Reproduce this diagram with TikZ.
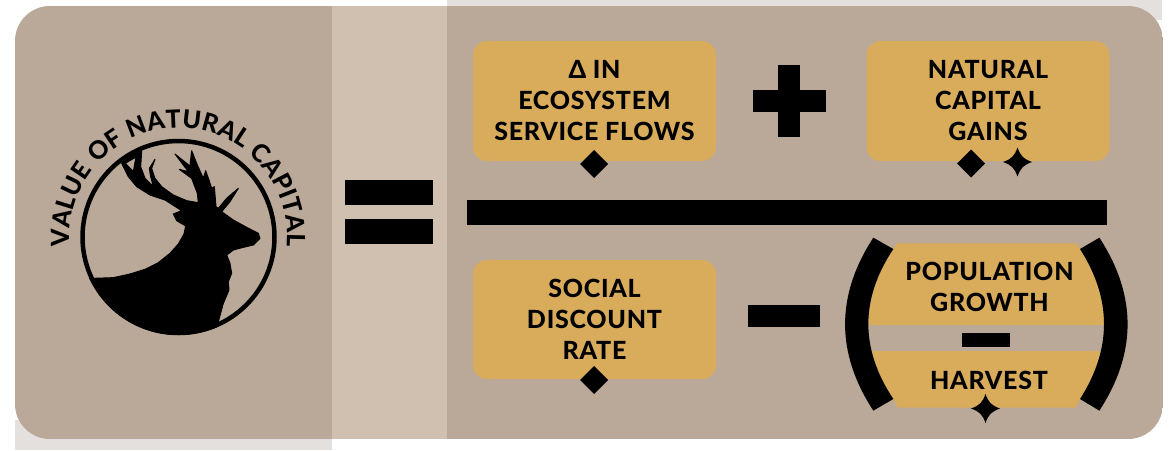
\documentclass[tikz,border=0pt]{standalone}
\usepackage{fontspec}
\setmainfont{Lato}[BoldFont={Lato Heavy},BoldFeatures={LetterSpace=3}]
\usetikzlibrary{shapes.geometric,decorations.text}
\definecolor{panel}{HTML}{BAA999}
\definecolor{band}{HTML}{CFC0AF}
\definecolor{gold}{HTML}{D9AC5C}
\definecolor{pale}{HTML}{E3E0DE}
\tikzset{
  goldbox/.style={fill=gold,rounded corners=14pt,minimum width=243pt,minimum height=120pt,inner sep=0pt,align=center,font=\fontsize{25}{31}\selectfont\bfseries},
  label/.style={inner sep=0pt,align=center,font=\fontsize{25}{30.5}\selectfont\bfseries},
  gem/.style={diamond,fill=black,shape aspect=1,minimum width=28pt,minimum height=28pt,inner sep=0pt,outer sep=0pt},
  bar/.style={fill=black}
}
\newcommand{\sparkle}[2]{\fill[black,shift={(#1,#2)}] (-14.5,0) .. controls (-6,-3) and (-3,-6) .. (0,-14.5) .. controls (3,-6) and (6,-3) .. (14.5,0) .. controls (6,3) and (3,6) .. (0,14.5) .. controls (-3,6) and (-6,3) .. (-14.5,0) -- cycle;}
\begin{document}
\begin{tikzpicture}[x=1pt,y=-1pt]
\useasboundingbox (0,0) rectangle (1172,450);
\fill[white] (0,0) rectangle (1172,450);
\fill[pale] (447,0) rectangle (1162,20);
\fill[pale] (15,420) rectangle (332,450);
\begin{scope}
  \clip[rounded corners=35pt] (15,6) rectangle (1163,439);
  \fill[panel] (15,6) rectangle (1163,439);
  \fill[band] (332,6) rectangle (447,439);
\end{scope}
% emblem
\coordinate (c) at (178.5,237);
\begin{scope}[shift={(30,90)},x=1/3*1pt,y=-1/3*1pt]
  \begin{scope}
  \clip (445,440) circle[radius=295];
  \filldraw[black,even odd rule,line join=round,line width=1pt]
    (275,220) -- (335,170) -- (335,185) -- (332,230) -- (345,265) -- (370,290) -- (362,260) -- (358,235) -- (375,208)
    -- (365,235) -- (375,265) -- (395,290) -- (430,315) -- (470,332) -- (505,338)
    -- (502,310) -- (485,265) -- (448,238) -- (475,245) -- (435,192) -- (480,228) -- (485,182)
    -- (502,225) -- (520,265) -- (527,242) -- (537,270) -- (545,295) -- (553,290) -- (558,350) -- (565,355)
    -- (590,325) -- (625,295) -- (600,335) -- (575,365)
    -- (610,390) -- (650,412) -- (685,430) -- (690,445) -- (670,465) -- (640,472) -- (610,480) -- (590,495)
    -- (600,520) -- (605,550) -- (595,575) -- (597,600) -- (580,640) -- (565,695)
    -- (560,800) -- (100,800) -- (100,560) -- (190,565) -- (250,563) -- (300,552) -- (345,538) -- (385,518) -- (420,490) -- (445,462)
    -- (462,432) -- (467,408) -- (440,392) -- (430,372) -- (455,362)
    -- (405,330) -- (360,315) -- (320,290) -- (295,260) -- cycle
    (286,220) -- (318,201) -- (310,244) -- cycle;
  \end{scope}
\end{scope}
\draw[black,line width=4.5pt] (c) circle[radius=96pt];
\path[decorate,decoration={text along path,text align={fit to path},
   text={|\fontsize{25}{25}\selectfont\bfseries|VALUE OF NATURAL CAPITAL}}]
   (c) ++(185:109pt) arc[start angle=185,end angle=-5,radius=109pt];
% equals
\fill[bar] (345,180) rectangle (432.5,204.5);
\fill[bar] (345,218.5) rectangle (432.5,243.5);
% top row
\node[goldbox] (flows) at (594.5,101) {Δ IN\\ECOSYSTEM\\SERVICE FLOWS};
\node[goldbox] (gains) at (988,101) {NATURAL\\CAPITAL\\GAINS};
\fill[bar] (753,90) rectangle (826,112);
\fill[bar] (778,65) rectangle (800,137);
\node[gem] (g1) at (594,164) {};
\node[gem] (g2) at (971,163.5) {};
\sparkle{1017.5}{162}
% fraction bar
\fill[bar] (467,200) rectangle (1107,225);
% bottom row
\node[goldbox,minimum height=119pt] (rate) at (594.5,319.5) {SOCIAL\\DISCOUNT\\RATE};
\node[gem] (g3) at (594,380) {};
\fill[bar] (748,305) rectangle (820,327);
\begin{scope}[shift={(830,225)},x=1/3*1pt,y=-1/3*1pt]
  \begin{scope}
    \clip (210,40) -- (190,72) .. controls (90,222) and (90,372) .. (190,522) -- (210,560) -- (730,560) -- (750,522) .. controls (846,372) and (846,222) .. (750,72) -- (730,40) -- cycle;
    \fill[gold,rounded corners=4pt] (100,55) rectangle (840,300);
    \fill[gold,rounded corners=4pt] (100,378) rectangle (840,548);
  \end{scope}
  \fill[black] (130,38) -- (190,72) .. controls (90,222) and (90,372) .. (190,522) -- (130,557) .. controls (17,384) and (17,211) .. (130,38) -- cycle;
  \fill[black] (808,38) -- (750,72) .. controls (846,222) and (846,372) .. (750,522) -- (808,557) .. controls (921,384) and (921,211) .. (808,38) -- cycle;
  \fill[black] (397,325) rectangle (540,367);
\end{scope}
\node[label] (pop) at (989.5,287) {POPULATION\\GROWTH};
\node[label] (harv) at (989,380) {HARVEST};
\sparkle{985.5}{408.5}
\end{tikzpicture}
\end{document}
